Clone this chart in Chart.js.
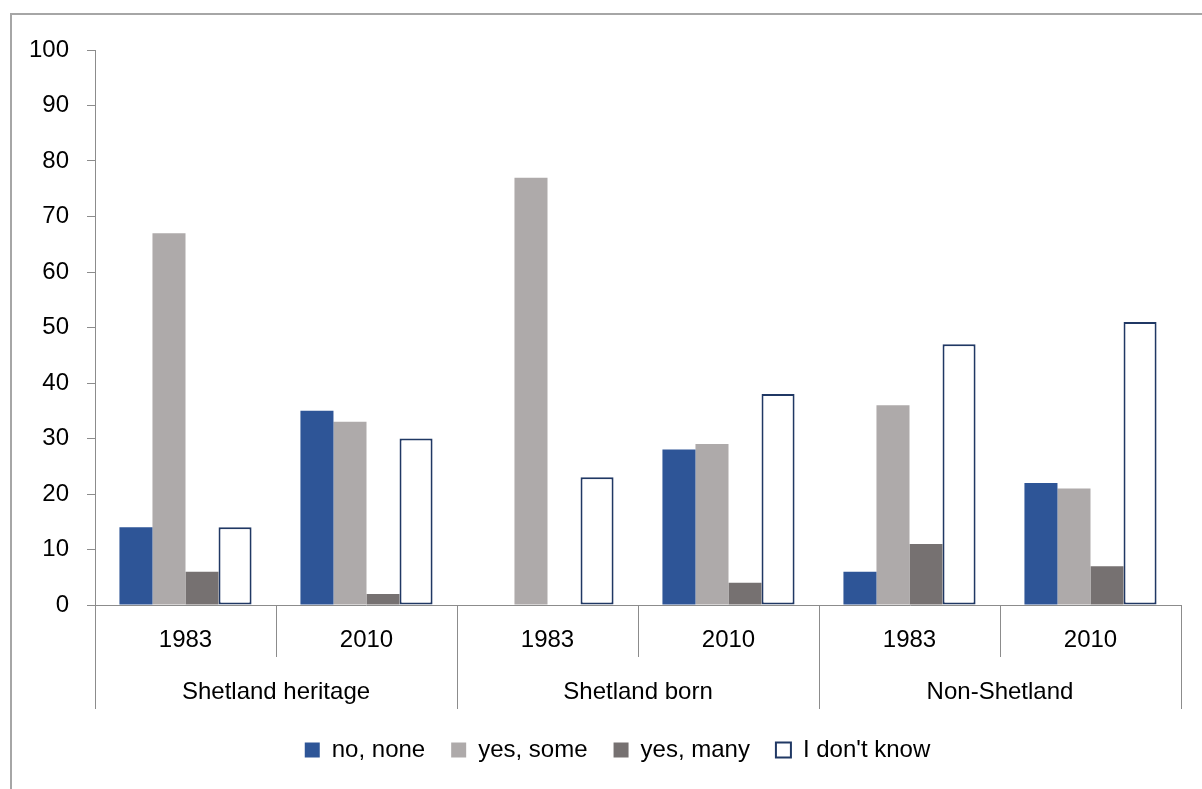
<!DOCTYPE html>
<html>
<head>
<meta charset="utf-8">
<script src="https://cdn.jsdelivr.net/npm/chart.js@4"></script>
<style>
  html, body { margin: 0; padding: 0; background: #fff; overflow: hidden; }
  #frame { position: absolute; left: 10px; top: 13px; width: 1400px; height: 1000px; border: 2px solid #a6a6a6; }
  #myChart { position: absolute; left: 0; top: 0; }
</style>
</head>
<body>
<div id="frame"></div>
<canvas id="myChart" width="1202" height="789"></canvas>
<script>
const years = ['1983', '2010', '1983', '2010', '1983', '2010'];
const groups = ['Shetland heritage', 'Shetland born', 'Non-Shetland'];
const noNone = [14, 35, 0, 28, 6, 22];
const yesSome = [67, 33, 77, 29, 36, 21];
const yesMany = [6, 2, 0, 4, 11, 7];
const dontKnow = [14, 30, 23, 38, 47, 51];

const axisColor = '#8c8c8c';
const font = { family: 'Liberation Sans', size: 24 };

// lines between the year cells and the group cells below the x axis
const categoryLines = {
    id: 'categoryLines',
    afterDraw(chart) {
        const x = chart.scales.x;
        const ctx = chart.ctx;
        const step = (x.right - x.left) / years.length;
        ctx.save();
        ctx.strokeStyle = axisColor;
        ctx.lineWidth = 1;
        for (let i = 0; i <= years.length; i++) {
            const px = Math.round(x.left + i * step) + 0.5;
            const bottom = i % 2 === 0 ? x.bottom + x.height : x.bottom;
            ctx.beginPath();
            ctx.moveTo(px, x.top);
            ctx.lineTo(px, bottom);
            ctx.stroke();
        }
        ctx.restore();
    }
};

// nudge the legend row a bit to the right
const legendShift = {
    id: 'legendShift',
    afterLayout(chart) {
        chart.legend.left += 27;
        chart.legend.right += 27;
    }
};

const ctx = document.getElementById('myChart');

new Chart(ctx, {
    type: 'bar',
    data: {
        labels: years,
        datasets: [
            { label: 'no, none', data: noNone, backgroundColor: '#2e5597', borderWidth: 0 },
            { label: 'yes, some', data: yesSome, backgroundColor: '#aeaaaa', borderWidth: 0 },
            { label: 'yes, many', data: yesMany, backgroundColor: '#767171', borderWidth: 0 },
            { label: "I don't know", data: dontKnow, backgroundColor: '#ffffff', borderColor: '#203864', borderWidth: 2, borderSkipped: false }
        ]
    },
    options: {
        responsive: false,
        animation: false,
        devicePixelRatio: 1,
        categoryPercentage: 0.73,
        barPercentage: 1,
        layout: { padding: { top: 50, right: 21, bottom: 17, left: 0 } },
        plugins: {
            tooltip: { enabled: false },
            legend: {
                position: 'bottom',
                labels: { color: '#000', font: font, boxWidth: 15, boxHeight: 15, padding: 26 }
            }
        },
        scales: {
            y: {
                min: 0,
                max: 100,
                ticks: { stepSize: 10, color: '#000', font: font, padding: 18 },
                grid: { drawOnChartArea: false, tickLength: 8, color: axisColor },
                border: { color: axisColor },
                afterFit(scale) { scale.width = 95; }
            },
            x: {
                ticks: { color: '#000', font: font, padding: 21 },
                grid: { display: false, drawTicks: false },
                border: { color: axisColor },
                afterFit(scale) { scale.height = 52; }
            },
            x2: {
                type: 'category',
                labels: groups,
                offset: true,
                position: 'bottom',
                ticks: { color: '#000', font: font, padding: 21 },
                grid: { display: false, drawTicks: false },
                border: { display: false },
                afterFit(scale) { scale.height = 55; }
            }
        }
    },
    plugins: [categoryLines, legendShift]
});
</script>
</body>
</html>
